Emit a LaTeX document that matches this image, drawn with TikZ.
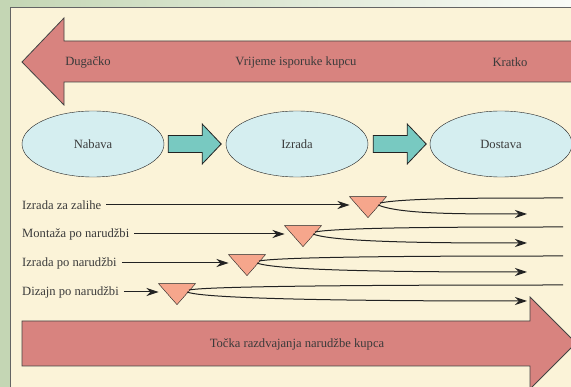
\documentclass[tikz,border=0pt]{standalone}
\usepackage{fontspec}
\setmainfont{Liberation Serif}
\usetikzlibrary{shapes.geometric,arrows.meta,calc}

\definecolor{panel}{HTML}{FBF3D8}
\definecolor{frame}{HTML}{C4D6B4}
\definecolor{bigred}{HTML}{D8837F}
\definecolor{pale}{HTML}{D5EEF0}
\definecolor{tealarr}{HTML}{78C9C1}
\definecolor{salmon}{HTML}{F6A68C}
\definecolor{ink}{HTML}{222222}
\definecolor{txt}{HTML}{3A3A3A}

\begin{document}
\begin{tikzpicture}[x=1pt,y=-1pt,>={Stealth[length=12pt,width=8pt]},font=\fontsize{12.6}{15}\selectfont]
  \tikzstyle{phase}=[ellipse, draw=ink, fill=pale, text=txt, minimum width=142pt, minimum height=66pt, inner sep=0pt]
  \tikzstyle{decoupling}=[isosceles triangle, isosceles triangle stretches, shape border rotate=270,
    draw=ink, fill=salmon, minimum width=37pt, minimum height=21pt, inner sep=0pt]
  \tikzstyle{strategy}=[anchor=west, inner sep=0pt, text=txt]
  \tikzstyle{label}=[text=txt]
  \tikzstyle{flow}=[draw=ink, line width=1pt]
  \tikzstyle{bigarrow}=[draw=ink!85, fill=bigred, line width=0.8pt]
  \tikzstyle{steparrow}=[draw=ink, fill=tealarr, line width=0.8pt]

  \useasboundingbox (0,0) rectangle (571,387);
  \clip (0,0) rectangle (571,387);
  \shade[left color=frame, right color=white!90!frame] (0,0) rectangle (571,387);
  \fill[frame] (0,0) rectangle (10,387);
  \draw[fill=panel, draw=ink!70, line width=0.8pt] (10,7) rectangle (580,395);

  % lead time arrow
  \draw[bigarrow] (22,62) -- (64,18) -- (64,41) -- (580,41) -- (580,82) -- (64,82) -- (64,105) -- cycle;
  \node[label] (long) at (88,62) {Dugačko};
  \node[label] (lead) at (296,62) {Vrijeme isporuke kupcu};
  \node[label] (short) at (510,62) {Kratko};

  % phases
  \node[phase] (nab) at (93,144) {Nabava};
  \node[phase] (izr) at (297,144) {Izrada};
  \node[phase] (dos) at (501,144) {Dostava};
  \draw[steparrow] ($(nab.east)+(4,-8.5)$) -- ++(34,0) -- ++(0,-11.5) -- ++(19,20) -- ++(-19,20) -- ++(0,-11.5) -- ++(-34,0) -- cycle;
  \draw[steparrow] ($(izr.east)+(5,-8.5)$) -- ++(34,0) -- ++(0,-11.5) -- ++(19,20) -- ++(-19,20) -- ++(0,-11.5) -- ++(-34,0) -- cycle;

  % strategies
  \node[strategy] (mts) at (22,205) {Izrada za zalihe};
  \node[strategy] (ato) at (22,234) {Montaža po narudžbi};
  \node[strategy] (mto) at (22,263) {Izrada po narudžbi};
  \node[strategy] (eto) at (22,292) {Dizajn po narudžbi};

  \node[decoupling] (d1) at (368,205) {};
  \node[decoupling] (d2) at (303,234) {};
  \node[decoupling] (d3) at (247,263) {};
  \node[decoupling] (d4) at (177,292) {};

  \coordinate (e1) at (563,198);
  \coordinate (f1) at (527,214);
  \coordinate (e2) at (563,227);
  \coordinate (f2) at (527,243);
  \coordinate (e3) at (563,256);
  \coordinate (f3) at (527,272);
  \coordinate (e4) at (563,285);
  \coordinate (f4) at (527,301);

  \draw[flow,->,shorten <=5pt,shorten >=7pt] (mts) -- (d1);
  \draw[flow,->,shorten <=5pt,shorten >=7pt] (ato) -- (d2);
  \draw[flow,->,shorten <=5pt,shorten >=7pt] (mto) -- (d3);
  \draw[flow,->,shorten <=5pt,shorten >=7pt] (eto) -- (d4);

  \draw[flow] ($(d1)+(12,-2)$) .. controls +(25,-5) and +(-80,0) .. (e1);
  \draw[flow,->] ($(d1)+(10,0)$) .. controls +(22,9) and +(-70,0) .. (f1);
  \draw[flow] ($(d2)+(12,-2)$) .. controls +(25,-5) and +(-80,0) .. (e2);
  \draw[flow,->] ($(d2)+(10,0)$) .. controls +(22,9) and +(-70,0) .. (f2);
  \draw[flow] ($(d3)+(12,-2)$) .. controls +(25,-5) and +(-80,0) .. (e3);
  \draw[flow,->] ($(d3)+(10,0)$) .. controls +(22,9) and +(-70,0) .. (f3);
  \draw[flow] ($(d4)+(12,-2)$) .. controls +(25,-5) and +(-80,0) .. (e4);
  \draw[flow,->] ($(d4)+(10,0)$) .. controls +(22,9) and +(-70,0) .. (f4);

  % decoupling point arrow
  \draw[bigarrow] (22,321) -- (530,321) -- (530,297) -- (576,343) -- (530,389) -- (530,366) -- (22,366) -- cycle;
  \node[label] (cod) at (297,344) {Točka razdvajanja narudžbe kupca};
\end{tikzpicture}
\end{document}
